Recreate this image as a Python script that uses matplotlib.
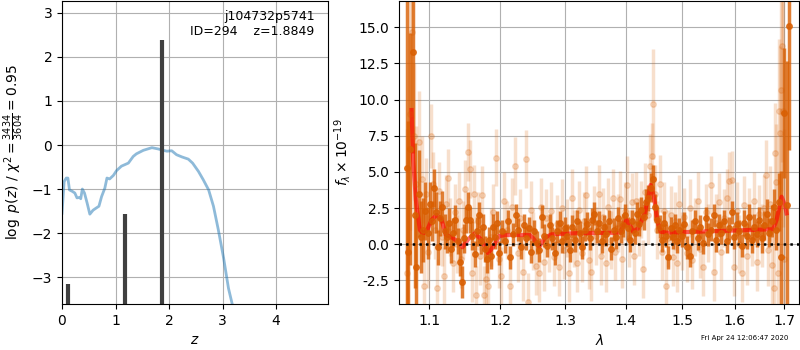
import numpy as np
import matplotlib
matplotlib.use("Agg")
import matplotlib.pyplot as plt
from matplotlib.ticker import FormatStrFormatter, NullLocator

# p(z) curve
z_grid = [0.0, 0.04, 0.08, 0.11, 0.14, 0.19, 0.24, 0.28, 0.33, 0.35, 0.38, 0.42, 0.47,
          0.52, 0.58, 0.64, 0.69, 0.74, 0.80, 0.84, 0.89, 0.96, 1.02, 1.11, 1.24, 1.33,
          1.39, 1.52, 1.68, 1.80, 1.89, 1.96, 2.05, 2.14, 2.24, 2.36, 2.44, 2.55, 2.64,
          2.74, 2.83, 2.92, 3.02, 3.11, 3.18, 3.21]
log_pz = [-1.55, -0.83, -0.75, -0.75, -1.02, -1.05, -1.09, -1.20, -1.19, -1.22, -1.00,
          -1.09, -1.32, -1.57, -1.48, -1.43, -1.39, -1.17, -0.98, -0.75, -0.77, -0.69,
          -0.58, -0.48, -0.41, -0.26, -0.20, -0.12, -0.06, -0.09, -0.12, -0.14, -0.13,
          -0.22, -0.27, -0.32, -0.41, -0.60, -0.79, -1.02, -1.39, -1.92, -2.57, -3.25,
          -3.61, -3.82]

# template redshift peaks
z_peaks = [0.11, 1.18, 1.875]
peak_vals = [-3.16, -1.57, 2.39]

# model spectrum
lam_model = [1.0765, 1.0786, 1.0822, 1.0875, 1.0919, 1.0973, 1.1032, 1.1100, 1.1169,
             1.1228, 1.1306, 1.1398, 1.1459, 1.1539, 1.1634, 1.1730, 1.1825, 1.1898,
             1.1986, 1.2095, 1.2446, 1.2496, 1.2589, 1.2677, 1.2782, 1.3124, 1.3898,
             1.3954, 1.4013, 1.4070, 1.4127, 1.4214, 1.4331, 1.4432, 1.4490, 1.4549,
             1.4610, 1.4718, 1.6772, 1.6842, 1.6946, 1.7015, 1.7050]
flux_model = [9.28, 5.83, 3.06, 0.99, 0.76, 0.99, 1.68, 2.02, 1.68, 0.64, 0.48, 0.18,
              -0.21, 0.35, 0.76, 0.30, -0.62, -0.17, 0.57, 0.64, 0.64, 0.41, -0.17, 0.46,
              0.69, 0.76, 0.80, 1.22, 1.68, 1.33, 0.87, 1.11, 2.14, 4.10, 3.29, 1.68,
              0.87, 0.80, 1.04, 1.68, 3.29, 2.72, 2.14]

# binned spectrum (dark)
lam_bin = [1.070, 1.072, 1.075, 1.078, 1.081, 1.083, 1.086, 1.089, 1.092, 1.095, 1.098,
           1.101, 1.104, 1.106, 1.109, 1.112, 1.115, 1.118, 1.121, 1.124, 1.127, 1.130,
           1.133, 1.136, 1.139, 1.142, 1.145, 1.148, 1.151, 1.154, 1.157, 1.160, 1.163,
           1.166, 1.169, 1.172, 1.175, 1.178, 1.181, 1.184, 1.187, 1.190, 1.193, 1.196,
           1.199, 1.203, 1.207, 1.211, 1.215, 1.219, 1.223, 1.227, 1.231, 1.235, 1.239,
           1.243, 1.247, 1.251, 1.255, 1.259, 1.263, 1.267, 1.271, 1.275, 1.279, 1.283,
           1.287, 1.291, 1.295, 1.299, 1.303, 1.307, 1.311, 1.315, 1.319, 1.323, 1.327,
           1.331, 1.335, 1.339, 1.343, 1.347, 1.351, 1.355, 1.359, 1.363, 1.367, 1.371,
           1.375, 1.379, 1.383, 1.387, 1.391, 1.395, 1.399, 1.403, 1.407, 1.411, 1.415,
           1.419, 1.423, 1.427, 1.431, 1.435, 1.439, 1.443, 1.447, 1.451, 1.455, 1.459,
           1.463, 1.467, 1.471, 1.475, 1.479, 1.483, 1.487, 1.491, 1.495, 1.499, 1.504,
           1.509, 1.514, 1.519, 1.524, 1.529, 1.534, 1.539, 1.544, 1.549, 1.554, 1.559,
           1.564, 1.569, 1.574, 1.579, 1.584, 1.589, 1.594, 1.599, 1.604, 1.609, 1.614,
           1.619, 1.624, 1.629, 1.634, 1.639, 1.644, 1.649, 1.654, 1.659, 1.664, 1.669,
           1.674, 1.679, 1.684, 1.689, 1.694, 1.700, 1.705, 1.711]
flux_bin = [5.3, -0.5, 6.6, 13.3, 2.0, -1.55, 3.5, 0.5, 1.0, 2.3, 0.8,
            2.8, 1.6, 3.9, 2.2, -0.2, 1.8, 2.6, 0.9, 0.5, 1.5, -0.3,
            0.8, 1.7, 0.2, -1.2, -2.6, 0.4, 1.7, 2.6, 1.7, 0.6, -0.7,
            0.9, 2.0, 0.2, 1.2, -0.3, -1.0, 0.3, -0.8, 1.2, 0.5, 1.5,
            -0.6, 0.9, 0.2, 1.6, -0.9, 0.7, 2.0, 1.0, -0.2, 1.3, 0.4,
            1.1, -0.5, 0.9, 0.1, -0.4, 1.9, 0.6, -0.1, 1.3, 0.4, -0.6,
            0.9, 1.5, 0.2, 1.1, 0.6, -0.4, 1.2, 0.3, 1.6, 0.8, -0.2,
            1.0, 1.4, 0.4, 1.7, 2.1, 0.9, 1.5, 0.2, 1.2, 0.7, 1.6,
            -0.3, 1.0, 0.5, 1.8, 0.9, 1.3, 2.0, 1.1, 0.3, 1.6, 0.8,
            2.1, 1.4, 2.4, 1.9, 2.9, 3.2, 3.9, 4.5, 2.6, 1.7, 1.2,
            0.3, 1.5, 0.6, -0.9, 1.1, 0.5, 1.3, 0.2, 1.0, 0.6, 1.4,
            -0.2, -0.8, 0.9, 1.6, 0.4, 1.2, 0.1, 1.8, 0.7, 1.0, 2.0,
            0.3, 1.3, 0.8, 1.6, 0.2, 1.1, 2.2, 0.5, 1.4, 0.9, -0.1,
            1.5, 0.6, 1.9, 0.3, 1.2, 0.7, 1.7, 0.4, 1.3, 2.1, 0.8,
            1.6, 2.6, 1.0, 2.9, -0.9, 9.1, 2.7, 15.1]
err_bin = [12, 9, 8, 7, 5, 3.5, 3, 2.5, 2.2, 2.0, 1.8,
           1.5, 1.4, 1.3, 1.4, 1.2, 1.2, 1.1, 1.2, 1.1, 1.0, 1.0,
           1.0, 1.0, 0.9, 1.0, 1.1, 1.0, 0.9, 1.0, 0.9, 1.0, 0.9,
           1.0, 0.9, 0.9, 0.9, 0.9, 1.0, 0.9, 0.9, 0.9, 0.8, 0.8,
           0.8, 0.8, 0.8, 0.8, 0.8, 0.8, 0.8, 0.8, 0.8, 0.8, 0.8,
           0.8, 0.8, 0.8, 0.8, 0.8, 0.8, 0.8, 0.8, 0.8, 0.8, 0.8,
           0.8, 0.8, 0.8, 0.8, 0.8, 0.8, 0.8, 0.8, 0.8, 0.8, 0.8,
           0.8, 0.8, 0.8, 0.8, 0.8, 0.8, 0.8, 0.8, 0.8, 0.8, 0.8,
           0.8, 0.8, 0.8, 0.8, 0.8, 0.8, 0.8, 0.8, 0.8, 0.8, 0.8,
           0.8, 0.8, 0.9, 0.9, 0.9, 0.9, 1.0, 1.0, 0.9, 0.9, 0.8,
           0.8, 0.8, 0.8, 0.8, 0.8, 0.8, 0.8, 0.8, 0.8, 0.8, 0.8,
           0.8, 0.8, 0.8, 0.8, 0.8, 0.8, 0.8, 0.8, 0.8, 0.8, 0.8,
           0.8, 0.8, 0.8, 0.8, 0.8, 0.8, 0.8, 0.8, 0.8, 0.8, 0.8,
           0.9, 0.9, 0.9, 0.9, 0.9, 0.9, 0.9, 1.0, 1.0, 1.0, 1.0,
           1.1, 1.2, 1.4, 2.0, 6.0, 4.5, 10, 8.6]

# unbinned spectrum (light)
lam_raw = [1.071, 1.074, 1.077, 1.080, 1.083, 1.087, 1.090, 1.093, 1.096, 1.099, 1.102,
           1.105, 1.108, 1.111, 1.114, 1.117, 1.120, 1.123, 1.126, 1.129, 1.132, 1.135,
           1.138, 1.141, 1.144, 1.147, 1.150, 1.153, 1.156, 1.159, 1.162, 1.165, 1.168,
           1.171, 1.174, 1.177, 1.180, 1.183, 1.186, 1.190, 1.194, 1.198, 1.202, 1.206,
           1.210, 1.214, 1.218, 1.222, 1.226, 1.230, 1.234, 1.238, 1.242, 1.246, 1.250,
           1.254, 1.258, 1.262, 1.266, 1.270, 1.274, 1.278, 1.282, 1.286, 1.290, 1.294,
           1.298, 1.302, 1.306, 1.310, 1.314, 1.318, 1.322, 1.326, 1.330, 1.334, 1.338,
           1.342, 1.346, 1.350, 1.354, 1.358, 1.362, 1.366, 1.370, 1.374, 1.378, 1.382,
           1.386, 1.390, 1.394, 1.398, 1.402, 1.406, 1.410, 1.414, 1.418, 1.422, 1.426,
           1.430, 1.434, 1.438, 1.442, 1.445, 1.448, 1.451, 1.455, 1.459, 1.463, 1.467,
           1.471, 1.475, 1.479, 1.483, 1.487, 1.491, 1.495, 1.499, 1.504, 1.509, 1.514,
           1.519, 1.524, 1.529, 1.534, 1.539, 1.544, 1.549, 1.554, 1.559, 1.564, 1.569,
           1.574, 1.579, 1.584, 1.589, 1.594, 1.599, 1.604, 1.609, 1.614, 1.619, 1.624,
           1.629, 1.634, 1.639, 1.644, 1.649, 1.654, 1.659, 1.663, 1.667, 1.671, 1.675,
           1.678, 1.681, 1.684, 1.687, 1.689, 1.691, 1.693, 1.695, 1.697, 1.699]
flux_raw = [-2.0, 9.0, 14.7, 7.5, 4.2, 7.1, 4.5, -2.9, 3.5, -0.5, 7.5,
            4.2, 1.0, -3.0, 3.7, 0.5, -2.2, 2.8, 4.6, 1.2, -1.3, 2.2,
            0.0, 3.0, -1.0, 1.0, 3.8, 6.4, 5.2, -2.0, 3.5, -3.5, 1.6,
            -0.8, 3.4, -3.5, -2.4, -2.9, 0.5, 2.2, 6.0, -1.0, -2.2, 3.0,
            1.0, -2.9, 2.6, 5.4, -0.6, 1.8, -1.9, 5.9, -4.0, 2.4, 0.2,
            -1.5, -2.0, 2.6, -1.2, 1.8, 0.1, 2.3, -0.9, 1.4, -1.6, 2.5,
            -0.4, 1.1, -2.0, 3.2, 0.4, -1.3, 2.4, -0.6, 1.6, 3.4, -1.1,
            -1.9, 2.0, 0.6, 3.5, -0.8, 1.9, -1.3, 2.6, 0.3, 3.2, -0.5,
            1.5, 3.1, -1.0, 2.3, 4.1, 0.4, 2.9, -0.8, 3.0, 1.2, 2.4,
            -1.7, 3.6, 2.0, 5.4, 6.1, 9.7, 3.5, 1.0, 4.2, -0.5, 2.3,
            -2.9, 0.4, 2.0, -0.9, 1.6, -1.3, 2.8, 0.2, 1.9, -0.6, 2.5,
            -1.1, 1.2, 3.0, -0.3, -1.6, 2.2, 0.8, 4.1, -1.9, 1.5, 2.9,
            -0.5, 1.8, 3.2, 4.4, 4.45, -1.6, 2.3, 0.0, -2.0, 2.7, -0.8,
            1.9, 0.5, 3.0, -1.2, 2.1, 0.6, 2.5, 4.8, -0.4, 2.8, -1.4,
            -3.0, 6.3, 4.3, -2.0, 9.2, 7.7, 10.7, 13.7, 9.2, -1.0]
err_raw = [10, 8, 6, 5, 4, 3.5, 3, 3, 2.5, 2.5, 2.2,
           2.2, 2.0, 2.0, 2.0, 2.0, 2.0, 2.0, 2.0, 2.0, 2.0, 2.0,
           2.0, 2.0, 2.0, 2.0, 2.0, 2.0, 2.0, 2.0, 2.0, 2.0, 2.0,
           2.0, 2.0, 2.0, 2.0, 2.0, 2.0, 2.0, 2.0, 2.0, 2.0, 2.0,
           2.0, 2.0, 2.0, 2.0, 2.0, 2.0, 2.0, 2.0, 2.0, 2.0, 2.0,
           2.0, 2.0, 2.0, 2.0, 2.0, 2.0, 2.0, 2.0, 2.0, 2.0, 2.0,
           2.0, 2.0, 2.0, 2.0, 2.0, 2.0, 2.0, 2.0, 2.0, 2.0, 2.0,
           2.0, 2.0, 2.0, 2.0, 2.0, 2.0, 2.0, 2.0, 2.0, 2.0, 2.0,
           2.0, 2.0, 2.0, 2.0, 2.0, 2.0, 2.0, 2.0, 2.0, 2.0, 2.0,
           2.0, 2.0, 2.0, 2.2, 2.3, 3.8, 2.0, 2.0, 2.0, 2.0, 2.0,
           2.0, 2.0, 2.0, 2.0, 2.0, 2.0, 2.0, 2.0, 2.0, 2.0, 2.0,
           2.0, 2.0, 2.0, 2.0, 2.0, 2.0, 2.0, 2.0, 2.0, 2.0, 2.0,
           2.0, 2.0, 2.0, 2.0, 2.0, 2.0, 2.0, 2.0, 2.0, 2.0, 2.0,
           2.0, 2.0, 2.0, 2.0, 2.0, 2.2, 2.3, 2.4, 2.5, 2.6, 3.0,
           3.5, 3.5, 4.0, 4.5, 5, 6, 7, 8, 8, 9]

orange = '#d95f02'

fig = plt.figure(figsize=(8, 3.5), dpi=100)

# --- p(z) panel
ax = fig.add_axes([0.0775, 0.1314, 0.3325, 0.8657])
ax.plot(z_grid, log_pz, color='C0', alpha=0.5, lw=2)
ax.vlines(z_peaks, -3.61, peak_vals, color='0.25', lw=3)
ax.set_xlim(0, 4.97)
ax.set_ylim(-3.61, 3.27)
ax.set_xticks([0, 1, 2, 3, 4])
ax.set_yticks([-3, -2, -1, 0, 1, 2, 3])
ax.grid()
ax.set_xlabel('$z$')
ax.set_ylabel(r'$\log\ p(z)$' + ' / ' + r'$\chi^2=\frac{3434}{3604}=0.95$')
ax.text(0.95, 0.97, 'j104732p5741\nID=294    z=1.8849', transform=ax.transAxes,
        ha='right', va='top', fontsize=9)

# --- spectrum panel
ax2 = fig.add_axes([0.499, 0.1314, 0.5, 0.8657])
ax2.errorbar(lam_raw, flux_raw, yerr=err_raw, color=orange, alpha=0.2,
             marker='o', ms=4, linestyle='None', elinewidth=2.5)
ax2.errorbar(lam_bin, flux_bin, yerr=err_bin, color=orange, alpha=0.8,
             marker='o', ms=4, linestyle='None', elinewidth=2.5)
ax2.plot(lam_model, flux_model, color='r', alpha=0.6, lw=3)
ax2.axhline(0, color='k', linestyle=':', lw=1.8)
ax2.set_xscale('log')
ax2.set_xlim(1.0603, 1.7316)
ax2.set_ylim(-4.13, 16.82)
ax2.set_xticks([1.1, 1.2, 1.3, 1.4, 1.5, 1.6, 1.7])
ax2.xaxis.set_major_formatter(FormatStrFormatter('%.1f'))
ax2.xaxis.set_minor_locator(NullLocator())
ax2.set_yticks([-2.5, 0, 2.5, 5, 7.5, 10, 12.5, 15])
ax2.yaxis.set_major_formatter(FormatStrFormatter('%.1f'))
ax2.grid()
ax2.set_xlabel(r'$\lambda$')
ax2.set_ylabel(r'$f_\lambda \times 10^{-19}$')

fig.text(0.985, 0.025, 'Fri Apr 24 12:06:47 2020', ha='right', va='bottom', fontsize=5)

fig.savefig('out.png', dpi=100)
